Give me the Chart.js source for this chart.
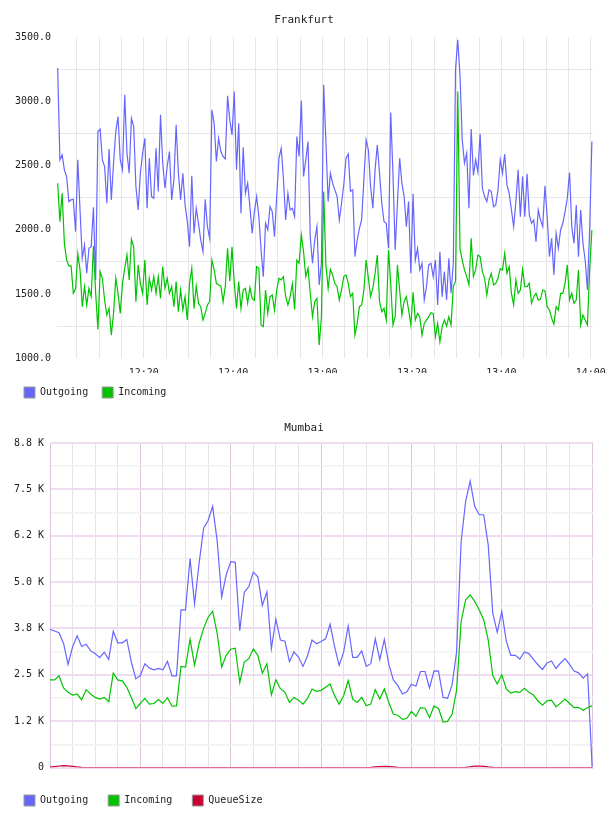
<!DOCTYPE html>
<html>
<head>
<meta charset="utf-8">
<script src="https://cdn.jsdelivr.net/npm/chart.js@4.4.1/dist/chart.umd.min.js"></script>
<style>
  body { margin: 0; background: #fff; }
  .box { position: absolute; left: 0; width: 608px; }
</style>
</head>
<body>
<div class="box" style="top:0;height:408px"><canvas id="frankfurt" width="608" height="408"></canvas></div>
<div class="box" style="top:410px;height:406px"><canvas id="mumbai" width="608" height="406"></canvas></div>
<script>
// Frankfurt: one sample every 30 s, first one at 12:00:45 (minutes after 12:00)
const frankfurtStart = 0.75;
const frankfurtStep = 0.5;
const frankfurtOutgoing = [
  3258, 2544, 2582, 2466, 2414, 2219, 2232, 2237, 1985, 2544,
  2154, 1777, 1881, 1661, 1855, 1868, 2175, 1609, 2764, 2783,
  2544, 2492, 2206, 2629, 2232, 2518, 2764, 2881, 2544, 2466,
  3050, 2596, 2440, 2868, 2803, 2336, 2154, 2440, 2596, 2712,
  2167, 2557, 2258, 2245, 2634, 2297, 2894, 2518, 2323, 2492,
  2609, 2232, 2388, 2816, 2440, 2232, 2440, 2193, 2063, 1868,
  2420, 1972, 2167, 2050, 1920, 1829, 2237, 2024, 1933, 2933,
  2829, 2531, 2712, 2609, 2570, 2550, 3042, 2855, 2738, 3076,
  2466, 2829, 2128, 2642, 2284, 2362, 2180, 1972, 2141, 2258,
  2102, 1842, 1635, 2050, 1998, 2180, 2141, 1946, 2258, 2557,
  2634, 2401, 2076, 2284, 2154, 2167, 2102, 2725, 2570, 3003,
  2414, 2544, 2686, 1946, 1739, 1920, 2024, 1570, 1739, 3128,
  2686, 2219, 2440, 2362, 2310, 2260, 2076, 2206, 2350, 2557,
  2590, 2300, 2310, 1790, 1920, 2011, 2081, 2388, 2699, 2622,
  2336, 2167, 2466, 2660, 2440, 2206, 2063, 2050, 1855, 2912,
  2440, 1842, 2206, 2557, 2362, 2258, 2024, 2219, 1661, 2279,
  1764, 1855, 1687, 1739, 1453, 1557, 1726, 1739, 1635, 1764,
  1414, 1829, 1479, 1674, 1453, 1777, 1505, 1739, 3250, 3479,
  3200, 2699, 2518, 2596, 2167, 2783, 2422, 2544, 2450, 2746,
  2323, 2258, 2219, 2310, 2297, 2180, 2193, 2310, 2544, 2440,
  2588, 2349, 2284, 2154, 2024, 2219, 2466, 2102, 2414, 2102,
  2435, 2115, 2050, 2076, 1907, 2154, 2076, 2024, 2341, 2102,
  1790, 1933, 1648, 1972, 1855, 1998, 2050, 2141, 2245, 2445,
  2024, 1894, 2193, 1790, 2154, 1894, 1764, 1531, 1998, 2686
];
const frankfurtIncoming = [
  2362, 2063, 2284, 1894, 1765, 1718, 1718, 1505, 1540, 1811,
  1687, 1401, 1557, 1414, 1544, 1479, 1874, 1505, 1224, 1674,
  1622, 1453, 1336, 1388, 1180, 1349, 1622, 1505, 1349, 1583,
  1700, 1803, 1609, 1926, 1868, 1440, 1726, 1583, 1505, 1765,
  1414, 1622, 1531, 1635, 1505, 1635, 1466, 1713, 1544, 1622,
  1505, 1557, 1401, 1596, 1362, 1531, 1375, 1479, 1297, 1583,
  1700, 1388, 1562, 1427, 1401, 1297, 1349, 1414, 1440, 1764,
  1692, 1583, 1570, 1562, 1440, 1560, 1855, 1600, 1868, 1583,
  1388, 1596, 1388, 1530, 1544, 1430, 1550, 1466, 1450, 1713,
  1700, 1258, 1245, 1531, 1349, 1479, 1492, 1375, 1531, 1622,
  1609, 1635, 1479, 1414, 1479, 1580, 1380, 1764, 1739, 1959,
  1829, 1635, 1700, 1505, 1323, 1440, 1466, 1102, 1323, 2297,
  1726, 1544, 1692, 1648, 1583, 1557, 1453, 1531, 1635, 1648,
  1583, 1479, 1505, 1180, 1271, 1401, 1414, 1531, 1764, 1622,
  1479, 1544, 1660, 1803, 1440, 1362, 1388, 1297, 1842, 1583,
  1258, 1323, 1726, 1531, 1336, 1440, 1479, 1375, 1258, 1513,
  1297, 1349, 1323, 1180, 1271, 1297, 1323, 1354, 1349, 1167,
  1271, 1128, 1245, 1297, 1250, 1323, 1258, 1557, 1600, 3076,
  1850, 1764, 1687, 1635, 1570, 1933, 1635, 1687, 1803, 1790,
  1674, 1622, 1492, 1609, 1661, 1570, 1583, 1622, 1697, 1687,
  1816, 1661, 1713, 1505, 1414, 1609, 1505, 1531, 1692, 1557,
  1557, 1583, 1427, 1479, 1505, 1453, 1458, 1531, 1526, 1401,
  1375, 1310, 1266, 1401, 1375, 1505, 1505, 1583, 1726, 1453,
  1505, 1427, 1453, 1687, 1258, 1336, 1297, 1258, 1687, 1998
];

// Mumbai: one sample per minute from 12:00 to 14:00
const mumbaiStart = 0;
const mumbaiStep = 1;
const mumbaiOutgoing = [
  3725, 3680, 3634, 3344, 2780, 3253, 3553, 3262, 3325, 3144,
  3071, 2962, 3107, 2917, 3671, 3362, 3362, 3453, 2844, 2390,
  2480, 2798, 2680, 2635, 2671, 2635, 2862, 2471, 2471, 4252,
  4252, 5633, 4407, 5506, 6451, 6660, 7042, 6115, 4598, 5197,
  5552, 5533, 3689, 4725, 4879, 5270, 5143, 4370, 4734, 3207,
  3998, 3435, 3407, 2853, 3117, 2980, 2726, 3007, 3435, 3335,
  3400, 3471, 3862, 3253, 2753, 3117, 3816, 2971, 2971, 3144,
  2726, 2798, 3471, 2907, 3453, 2780, 2362, 2208, 1981, 2044,
  2244, 2190, 2589, 2589, 2144, 2608, 2599, 1890, 1863, 2235,
  3117, 6088, 7178, 7723, 7042, 6815, 6815, 5997, 4161, 3643,
  4207, 3407, 3026, 3026, 2926, 3117, 3071, 2917, 2771, 2644,
  2817, 2871, 2671, 2817, 2935, 2780, 2599, 2553, 2408, 2526,
  0
];
const mumbaiIncoming = [
  2362, 2362, 2471, 2144, 2026, 1953, 1981, 1826, 2099, 1981,
  1890, 1844, 1890, 1772, 2544, 2362, 2335, 2162, 1890, 1590,
  1726, 1863, 1708, 1726, 1835, 1726, 1881, 1654, 1663, 2726,
  2708, 3453, 2762, 3344, 3752, 4052, 4207, 3616, 2708, 3026,
  3189, 3216, 2290, 2844, 2935, 3198, 3026, 2544, 2798, 1963,
  2362, 2126, 2026, 1754, 1890, 1817, 1708, 1863, 2117, 2053,
  2080, 2162, 2253, 1935, 1708, 1935, 2344, 1844, 1754, 1890,
  1663, 1708, 2099, 1844, 2117, 1754, 1436, 1408, 1299, 1327,
  1508, 1381, 1617, 1599, 1345, 1654, 1590, 1227, 1245, 1436,
  2090, 3934, 4525, 4652, 4479, 4252, 3980, 3435, 2480, 2253,
  2499, 2117, 2008, 2044, 2026, 2135, 2026, 1953, 1799, 1681,
  1799, 1817, 1635, 1735, 1844, 1726, 1617, 1617, 1545, 1617,
  1663
];
const mumbaiQueueSize = [
  10, 25, 40, 50, 45, 30, 15, 5, 0, 0,
  0, 0, 0, 0, 0, 0, 0, 0, 0, 0,
  0, 0, 0, 0, 0, 0, 0, 0, 0, 0,
  0, 0, 0, 0, 0, 0, 0, 0, 0, 0,
  0, 0, 0, 0, 0, 0, 0, 0, 0, 0,
  0, 0, 0, 0, 0, 0, 0, 0, 0, 0,
  0, 0, 0, 0, 0, 0, 0, 0, 0, 0,
  0, 5, 15, 25, 30, 25, 15, 5, 0, 0,
  0, 0, 0, 0, 0, 0, 0, 0, 0, 0,
  0, 0, 5, 20, 35, 40, 30, 15, 5, 0,
  0, 0, 0, 0, 0, 0, 0, 0, 0, 0,
  0, 0, 0, 0, 0, 0, 0, 0, 0, 0,
  0
];

// ticks
const gridMinutes = [5, 10, 15, 20, 25, 30, 35, 40, 45, 50, 55, 60, 65, 70, 75, 80, 85, 90, 95, 100, 105, 110, 115, 120];
const frankfurtLabelMinutes = [20, 40, 60, 80, 100, 120];
const frankfurtTimeLabels = ['12:20', '12:40', '13:00', '13:20', '13:40', '14:00'];
const mumbaiLabelMinutes = [20, 40, 60, 80, 100];
const mumbaiTimeLabels = ['12:20', '12:40', '13:00', '13:20', '13:40'];
const mumbaiYLabels = ['0', '1.2 K', '2.5 K', '3.8 K', '5.0 K', '6.2 K', '7.5 K', '8.8 K'];

const OUT_COLOR = '#6666ff';
const IN_COLOR = '#00c400';
const QUEUE_COLOR = '#cc0033';

Chart.defaults.font.family = '"DejaVu Sans Mono", monospace';
Chart.defaults.color = '#222';
Chart.defaults.animation = false;

function toPoints(values, start, step) {
  return values.map((v, i) => ({ x: start + i * step, y: v }));
}

function legendLabels(chart) {
  return chart.data.datasets.map((ds, i) => ({
    text: ds.label,
    fillStyle: ds.borderColor,
    strokeStyle: '#999',
    lineWidth: 1,
    fontColor: '#222',
    hidden: false,
    datasetIndex: i
  }));
}

function lineSet(label, data, color) {
  return { label: label, data: data, borderColor: color, backgroundColor: color,
           borderWidth: 1.2, pointRadius: 0, tension: 0, fill: false };
}

// empty axis on the right, only used to keep the plot edge where it belongs
function spacer(w) {
  return {
    position: 'right', display: true,
    afterFit: s => { s.width = w; },
    grid: { display: false }, border: { display: false }, ticks: { display: false }
  };
}

new Chart(document.getElementById('frankfurt'), {
  type: 'line',
  data: {
    datasets: [
      lineSet('Outgoing', toPoints(frankfurtOutgoing, frankfurtStart, frankfurtStep), OUT_COLOR),
      lineSet('Incoming', toPoints(frankfurtIncoming, frankfurtStart, frankfurtStep), IN_COLOR)
    ]
  },
  options: {
    responsive: false,
    layout: { padding: { left: 10, right: 10, top: 0, bottom: 0 } },
    scales: {
      x: {
        type: 'linear', min: 0.6, max: 120.5,
        afterBuildTicks: s => { s.ticks = gridMinutes.map(v => ({ value: v })); },
        afterFit: s => { s.paddingRight = 0; s.paddingLeft = 0; s.height = 14.8; },
        grid: { color: '#e6e6e6', drawTicks: false },
        border: { display: false },
        ticks: {
          autoSkip: false, maxRotation: 0, padding: 9, font: { size: 10 },
          callback: v => { const k = frankfurtLabelMinutes.indexOf(v); return k < 0 ? '' : frankfurtTimeLabels[k]; }
        }
      },
      y: {
        min: 1000, max: 3500,
        afterFit: s => { s.width = 47; },
        grid: { drawTicks: false, color: c => (c.tick && c.tick.value % 500 === 0) ? 'rgba(0,0,0,0)' : '#e6e6e6' },
        border: { display: false },
        ticks: { stepSize: 250, padding: 6, font: { size: 10 }, callback: v => v % 500 === 0 ? v.toFixed(1) : '' }
      },
      yRight: spacer(5)
    },
    plugins: {
      title: { display: true, text: 'Frankfurt', color: '#222', font: { size: 11, weight: 'normal' }, padding: { top: 13.4, bottom: 10.4 } },
      legend: { position: 'bottom', align: 'start',
        labels: { boxWidth: 11, boxHeight: 11, padding: 14, font: { size: 10 }, generateLabels: legendLabels } },
      tooltip: { enabled: false }
    }
  }
});

new Chart(document.getElementById('mumbai'), {
  type: 'line',
  data: {
    datasets: [
      Object.assign(lineSet('Outgoing', toPoints(mumbaiOutgoing, mumbaiStart, mumbaiStep), OUT_COLOR), { order: 2 }),
      Object.assign(lineSet('Incoming', toPoints(mumbaiIncoming, mumbaiStart, mumbaiStep), IN_COLOR), { order: 1 }),
      Object.assign(lineSet('QueueSize', toPoints(mumbaiQueueSize, mumbaiStart, mumbaiStep), QUEUE_COLOR), { order: 0 })
    ]
  },
  options: {
    responsive: false,
    layout: { padding: { left: 4, right: 4, top: 0, bottom: 0 } },
    scales: {
      x: {
        type: 'linear', min: 0, max: 120.3,
        afterBuildTicks: s => { s.ticks = gridMinutes.map(v => ({ value: v })); },
        afterFit: s => { s.paddingRight = 0; s.paddingLeft = 0; s.height = 7.5; },
        grid: { drawTicks: false, color: c => (c.tick && c.tick.value % 20 === 0) ? '#dcc6dc' : '#e8e2e8' },
        border: { display: false },
        ticks: {
          autoSkip: false, maxRotation: 0, padding: 8.7, font: { size: 10 },
          callback: v => { const k = mumbaiLabelMinutes.indexOf(v); return k < 0 ? '' : mumbaiTimeLabels[k]; }
        }
      },
      y: {
        min: 0, max: 8750,
        afterFit: s => { s.width = 46; },
        grid: {
          drawTicks: false,
          color: c => (c.tick && c.tick.value % 1250 === 0) ? '#f0dcf0' : '#f1f1f1',
          lineWidth: c => (c.tick && c.tick.value % 1250 === 0) ? 2 : 1.5
        },
        border: { display: true, color: '#dcc6dc', width: 1 },
        ticks: { stepSize: 625, padding: 6, font: { size: 10 }, callback: (v, i) => i % 2 === 0 ? mumbaiYLabels[i / 2] : '' }
      },
      yRight: spacer(10.5)
    },
    plugins: {
      title: { display: true, text: 'Mumbai', color: '#222', font: { size: 11, weight: 'normal' }, padding: { top: 11.4, bottom: 8.4 } },
      legend: { position: 'bottom', align: 'start',
        labels: { boxWidth: 11, boxHeight: 11, padding: 20, font: { size: 10 }, generateLabels: legendLabels } },
      tooltip: { enabled: false }
    }
  }
});
</script>
</body>
</html>
